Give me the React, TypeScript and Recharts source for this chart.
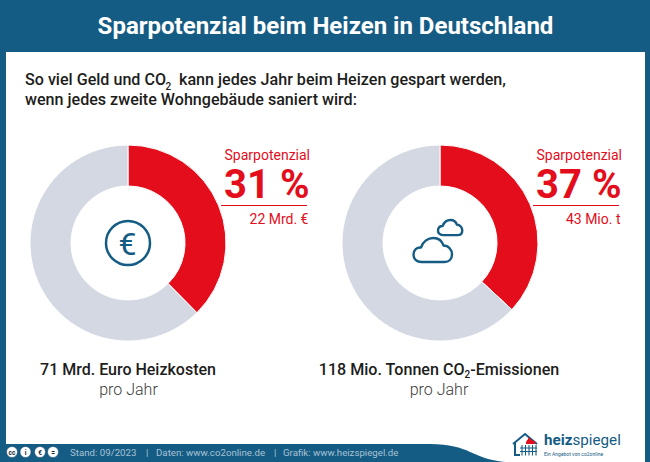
import React from 'react';
import { PieChart, Pie, Cell } from 'recharts';

const BLUE = '#155c85';
const RED = '#e30d1b';
const GREY = '#d3d8e3';
const FONT = 'Roboto, sans-serif';

// shares as drawn in the picture, clockwise from 12 o'clock
const costNames = ['Sparpotenzial', 'Rest'];
const costValues = [37.6, 62.4];
const co2Names = ['Sparpotenzial', 'Rest'];
const co2Values = [36.9, 63.1];
const sliceColors = [RED, GREY];

const Donut = ({ names, values, left }: { names: string[]; values: number[]; left: number }) => {
  const rows = names.map((name, i) => ({ name, value: values[i] }));
  return (
    <div style={{ position: 'absolute', left, top: 143 }}>
      <PieChart width={200} height={200} margin={{ top: 0, right: 0, bottom: 0, left: 0 }}>
        <Pie
          data={rows}
          dataKey="value"
          nameKey="name"
          cx={100}
          cy={100}
          innerRadius={57}
          outerRadius={98}
          startAngle={90}
          endAngle={-270}
          stroke="#fff"
          strokeWidth={1}
          isAnimationActive={false}
        >
          {rows.map((_, i) => (
            <Cell key={i} fill={sliceColors[i]} />
          ))}
        </Pie>
      </PieChart>
    </div>
  );
};

const Callout = ({ x, value, amount }: { x: number; value: string; amount: string }) => (
  <g fontFamily={FONT} fill={RED} textAnchor="end">
    <text x={x} y={160} fontSize={14}>Sparpotenzial</text>
    <text x={x - 0.5} y={198} fontSize={40} fontWeight={700}>{value}</text>
    <line x1={x - 89} x2={x - 3} y1={205.5} y2={205.5} stroke={RED} strokeWidth={1} />
    <text x={x - 1.5} y={224} fontSize={14}>{amount}</text>
  </g>
);

const Cloud = ({ x, y, s }: { x: number; y: number; s: number }) => (
  <path
    transform={`translate(${x} ${y}) scale(${s})`}
    d="M8 24 C2 24 0 20 0 16.5 C0 12 3.5 9 7.5 9.5 C9.5 3.5 14.5 0 20 0 C25 0 28.5 3 30 7.5 C35 7.5 38.5 12 38.5 16.5 C38.5 21 35.5 24 31 24 Z"
    fill="none"
    stroke={BLUE}
    strokeWidth={2.4 / s}
    strokeLinejoin="round"
  />
);

export default function App() {
  return (
    <div style={{ position: 'fixed', left: 0, top: 0, width: 650, height: 462, background: BLUE, overflow: 'hidden' }}>
      <div style={{ position: 'absolute', left: 6, top: 52, width: 639, height: 410, background: '#fff' }} />
      <Donut names={costNames} values={costValues} left={28} />
      <Donut names={co2Names} values={co2Values} left={339.5} />
      <svg width={650} height={462} style={{ position: 'absolute', left: 0, top: 0 }}>
        <path d="M0 444 L430 444 C470 444 472 459 505 462 L0 462 Z" fill={BLUE} />
        <text x={325.5} y={34} textAnchor="middle" fontFamily={FONT} fontSize={24} fontWeight={700} fill="#fff">
          Sparpotenzial beim Heizen in Deutschland
        </text>
        <g fontFamily={FONT} fill="#1d1d1b" fontWeight={500} fontSize={16.1}>
          <text x={25} y={85}>So viel Geld und CO</text>
          <text x={165.5} y={90} fontSize={10}>2</text>
          <text x={179} y={85}>kann jedes Jahr beim Heizen gespart werden,</text>
          <text x={25} y={105}>wenn jedes zweite Wohngebäude saniert wird:</text>
        </g>

        <Callout x={310} value="31 %" amount="22 Mrd. €" />
        <Callout x={622} value="37 %" amount="43 Mio. t" />

        {/* euro coin */}
        <circle cx={128} cy={243} r={22} fill="none" stroke={BLUE} strokeWidth={2.5} />
        <text x={127.5} y={254.5} textAnchor="middle" fontFamily={FONT} fontSize={32} fontWeight={400} fill={BLUE}>€</text>

        {/* clouds */}
        <Cloud x={413.5} y={238} s={1} />
        <Cloud x={438} y={220} s={0.63} />

        <g fontFamily={FONT} textAnchor="middle" fontSize={16}>
          <text x={128} y={375} fill="#1d1d1b" fontWeight={500}>71 Mrd. Euro Heizkosten</text>
          <text x={128.5} y={395} fill="#3c3c3b" fontWeight={300}>pro Jahr</text>
          <text x={439} y={375} fontSize={16.1} fill="#1d1d1b" fontWeight={500}>
            118 Mio. Tonnen CO<tspan fontSize={10} dy={3}>2</tspan><tspan dy={-3}>-Emissionen</tspan>
          </text>
          <text x={439} y={395} fill="#3c3c3b" fontWeight={300}>pro Jahr</text>
        </g>

        {/* licence badges */}
        {[12, 25.5, 40, 53].map((cx, i) => (
          <g key={cx}>
            <circle cx={cx} cy={452} r={5.5} fill="#fff" stroke="#0d3f5e" strokeWidth={0.5} />
            <text x={cx} y={454.5} textAnchor="middle" fontFamily={FONT} fontSize={6.5} fontWeight={700} fill="#123">
              {['cc', 'i', '€', '='][i]}
            </text>
          </g>
        ))}
        <g fontFamily={FONT} fontSize={9.7} fill="#a9c2d3">
          <text x={70} y={456}>Stand: 09/2023</text>
          <text x={146} y={456}>|</text>
          <text x={156} y={456}>Daten: www.co2online.de</text>
          <text x={274} y={456}>|</text>
          <text x={283} y={456}>Grafik: www.heizspiegel.de</text>
        </g>

        {/* logo */}
        <path d="M513 444 L525 434 L537 444 M515 442 L515 455 L520 455" fill="none" stroke={BLUE} strokeWidth={2} />
        <path d="M526 443 C526 440 529 440 528 437 C531 439 532 441 535 441 L535 444 L526 444 Z" fill={RED} />
        <path d="M520 448 H537 M520 451.5 H537 M522 445 V455.5 M525.5 445 V455.5 M529 445 V455.5 M532.5 445 V455.5 M536 445 V455.5" stroke={BLUE} strokeWidth={1.1} fill="none" />
        <text x={544} y={445} fontFamily={FONT} fontSize={15.2} fill={BLUE}>
          <tspan fontWeight={700}>heiz</tspan><tspan fontWeight={400}>spiegel</tspan>
        </text>
        <text x={544} y={455.5} fontFamily={FONT} fontSize={5} fill={BLUE}>Ein Angebot von co2online</text>
      </svg>
    </div>
  );
}
